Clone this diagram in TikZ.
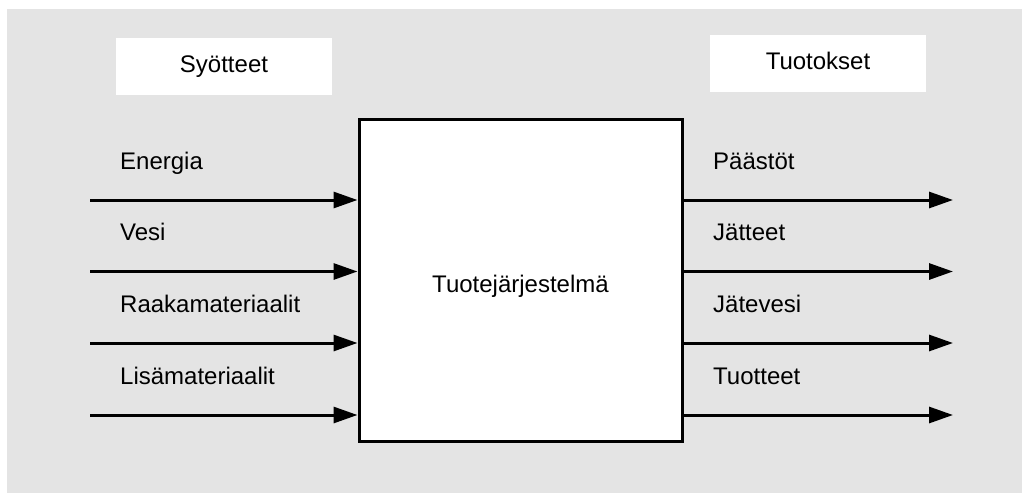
\documentclass[tikz,border=0pt]{standalone}
\usepackage{fontspec}
\setmainfont{Liberation Sans}
\usetikzlibrary{arrows.meta,positioning}
\definecolor{canvas}{HTML}{E4E4E4}

\begin{document}
\begin{tikzpicture}[x=1pt,y=-1pt,
  every node/.style={font=\fontsize{24}{28}\selectfont},
  headbox/.style={fill=white, minimum width=216pt, minimum height=57pt, inner sep=0pt, text height=17pt, text depth=5pt},
  system/.style={draw, fill=white, line width=3pt, minimum width=323pt, minimum height=322pt, text height=29pt, text depth=5pt},
  flowlabel/.style={anchor=base west, inner sep=0pt},
  flow/.style={line width=3pt, -{Triangle[length=24pt,width=16pt]}},
]

\useasboundingbox (0,0) rectangle (1022,493);
\fill[canvas] (7,9) rectangle (1022,493);

\node (inhead) [headbox] at (224,66.5) {Syötteet};
\node (outhead) [headbox] at (818,63.5) {Tuotokset};

\node (sys) [system] at (520.5,280) {Tuotejärjestelmä};

\foreach \lab/\ya [count=\i] in {Energia/200, Vesi/271.5, Raakamateriaalit/343, Lisämateriaalit/415} {
  \coordinate (in\i) at (90,\ya);
  \node (inlab\i) [flowlabel] at (120,\ya-31) {\lab};
  \draw[flow] (in\i) -- (sys.west |- in\i);
}

\foreach \lab/\ya [count=\i] in {Päästöt/200, Jätteet/271.5, Jätevesi/343, Tuotteet/415} {
  \coordinate (out\i) at (953,\ya);
  \node (outlab\i) [flowlabel] at (713,\ya-31) {\lab};
  \draw[flow] (sys.east |- out\i) -- (out\i);
}
\end{tikzpicture}
\end{document}
